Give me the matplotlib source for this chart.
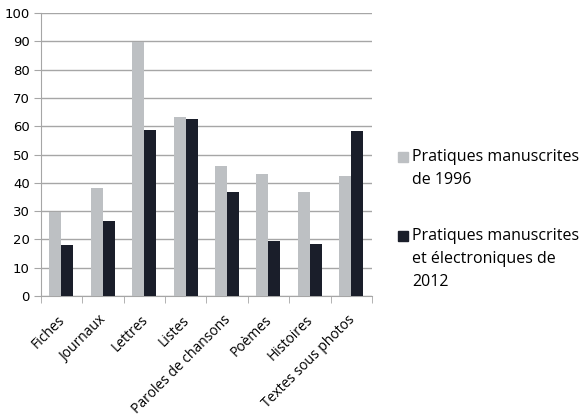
import numpy as np
import matplotlib
matplotlib.use("Agg")
import matplotlib.pyplot as plt
import matplotlib.transforms as mtransforms
from matplotlib.patches import Rectangle

# --- data --------------------------------------------------------------------
categories = ["Fiches", "Journaux", "Lettres", "Listes", "Paroles de chansons",
              "Poèmes", "Histoires", "Textes sous photos"]
vals_1996 = [29.6, 38.1, 89.6, 63.2, 46.1, 43.2, 36.7, 42.6]
vals_2012 = [18.0, 26.5, 58.6, 62.6, 36.7, 19.3, 18.4, 58.4]
labels = ["Pratiques manuscrites\nde 1996",
          "Pratiques manuscrites\net électroniques de\n2012"]

GREY  = "#BDC0C3"
BLACK = "#1A1E2A"
GRID  = "#A6A6A6"
W, H = 582, 420

fig = plt.figure(figsize=(W / 100, H / 100), dpi=100)
ax = fig.add_axes([0.070, 0.295, 0.569, 0.674])

x = np.arange(len(categories))
w = 0.29
ax.bar(x - w/2, vals_1996, w, color=GREY, zorder=3)
ax.bar(x + w/2, vals_2012, w, color=BLACK, zorder=3)

ax.set_xlim(-0.5, len(categories) - 0.5)
ax.set_ylim(0, 100)
ax.set_yticks(range(0, 101, 10))
ax.yaxis.grid(True, color=GRID, lw=1, zorder=0)

# category labels, ticks between groups
ax.set_xticks(x)
ax.set_xticklabels(categories, rotation=45, ha="right", rotation_mode="anchor",
                   family="Open Sans", fontsize=10)
ax.tick_params(axis="x", length=0, pad=12)
shift = mtransforms.ScaledTranslation(-0.04, 0, fig.dpi_scale_trans)
for t in ax.get_xticklabels():
    t.set_transform(t.get_transform() + shift)
ax.set_xticks(np.arange(-0.5, len(categories)), minor=True)
ax.tick_params(axis="x", which="minor", length=5, color=GRID)
ax.tick_params(axis="y", length=5, color=GRID, labelsize=9.5, pad=3)

for s in ["top", "right"]:
    ax.spines[s].set_visible(False)
ax.spines["left"].set_color(GRID)
ax.spines["bottom"].set_color(GRID)

# legend drawn by hand: square aligned with the first line of each label
for (ytop, col, lab) in [(149, GREY, labels[0]), (228, BLACK, labels[1])]:
    fig.patches.append(Rectangle((398 / W, 1 - (ytop + 13) / H), 10 / W, 10 / H,
                                 transform=fig.transFigure, color=col))
    fig.text(412 / W, 1 - ytop / H, lab, va="top", ha="left",
             family="Open Sans", fontsize=11.5, linespacing=1.6)

fig.savefig("out.png", dpi=100)
